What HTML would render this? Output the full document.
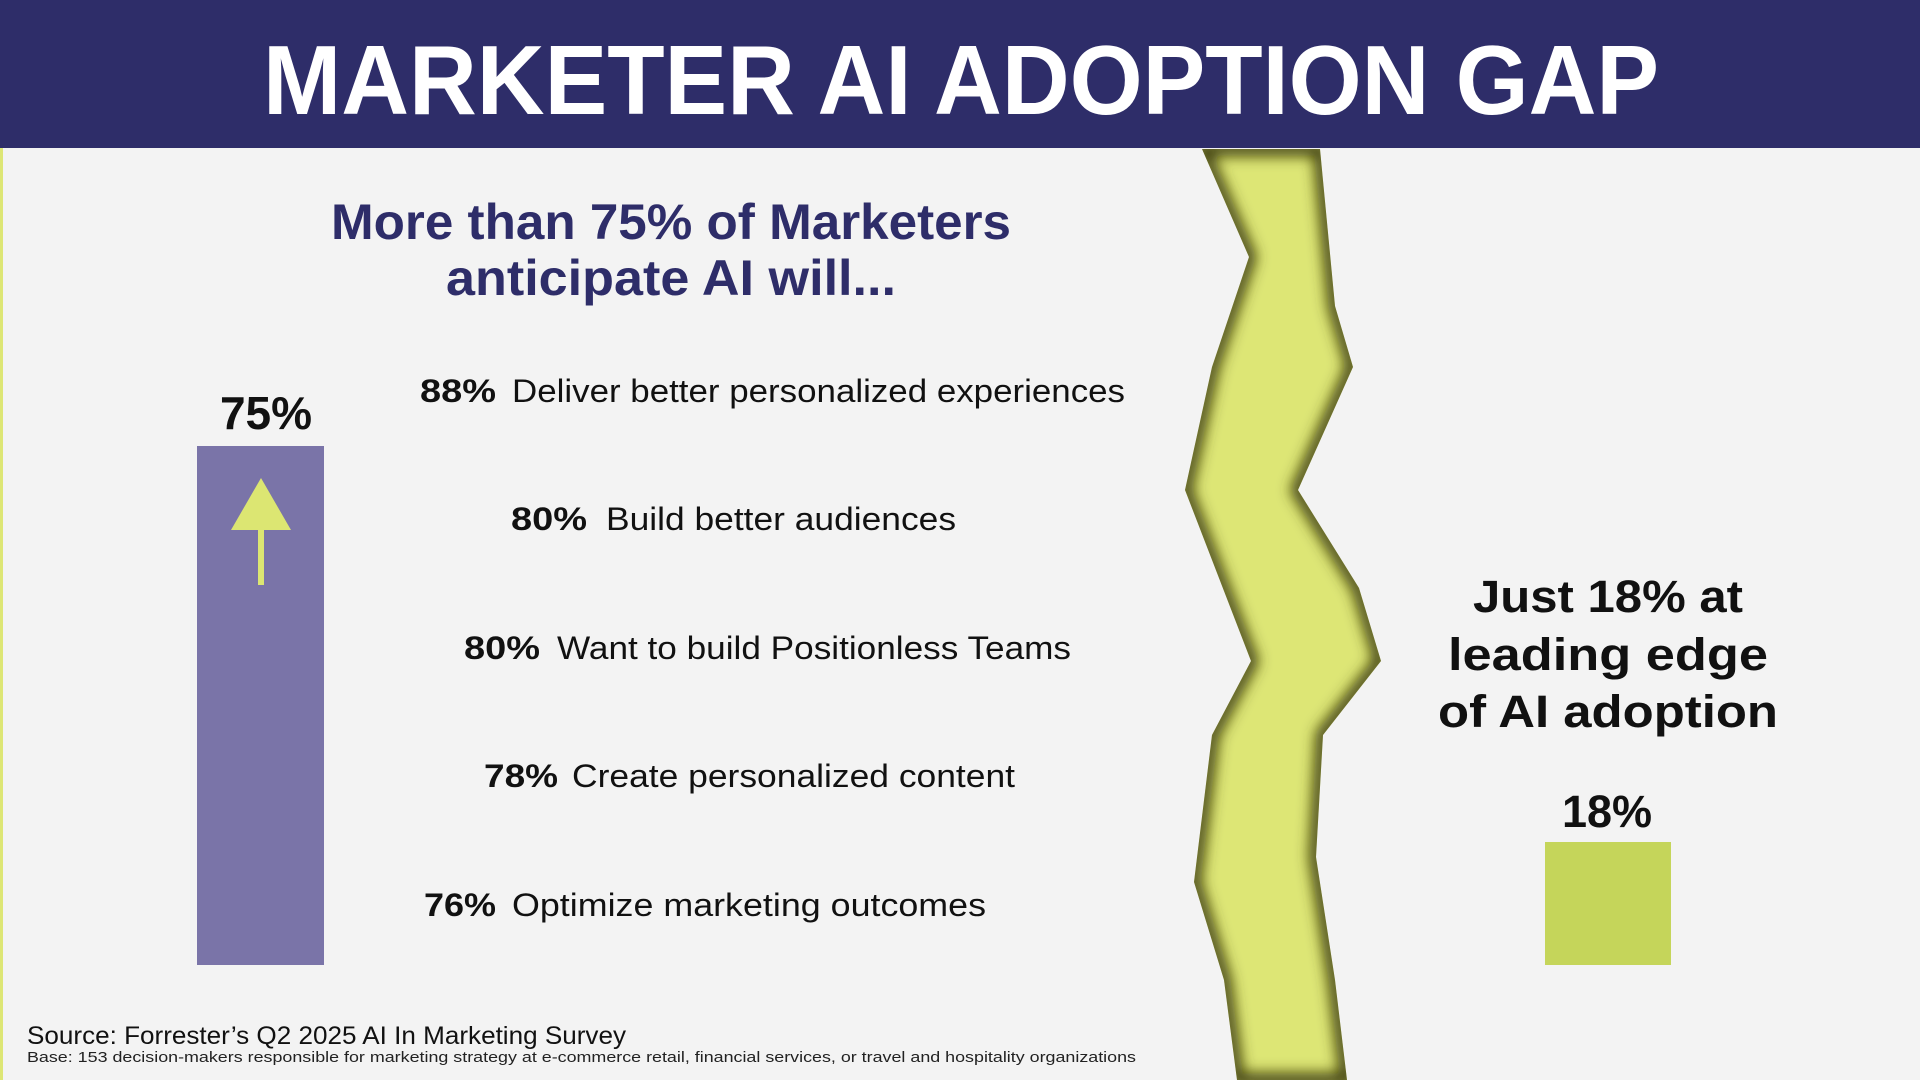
<!DOCTYPE html>
<html><head><meta charset="utf-8"><style>
html,body{margin:0;padding:0;width:1920px;height:1080px;overflow:hidden;background:#f3f3f3}
svg{display:block;font-family:"Liberation Sans",sans-serif}
</style></head><body>
<svg width="1920" height="1080" viewBox="0 0 1920 1080" xmlns="http://www.w3.org/2000/svg">
<defs>
<filter id="bl" x="-20%" y="-5%" width="140%" height="110%"><feGaussianBlur stdDeviation="7"/></filter>
<clipPath id="cc"><polygon id="crackp" points="1202,149 1249,257 1212,367 1185,490 1251,661 1212,735 1194,882 1224,980 1237,1080 1347,1080 1335,980 1316,857 1323,735 1381,661 1359,588 1298,490 1353,367 1335,306 1320,149"/></clipPath>
</defs>
<rect width="1920" height="1080" fill="#f3f3f3"/>
<rect x="0" y="147" width="3" height="933" fill="#dde675"/>
<rect width="1920" height="148" fill="#2e2d69"/>
<text x="961" y="114" text-anchor="middle" font-size="98" font-weight="bold" fill="#fff" textLength="1396" lengthAdjust="spacingAndGlyphs">MARKETER AI ADOPTION GAP</text>

<text x="671" y="239" text-anchor="middle" font-size="50" font-weight="bold" fill="#2e2d69" textLength="680" lengthAdjust="spacingAndGlyphs">More than 75% of Marketers</text>
<text x="671" y="295" text-anchor="middle" font-size="50" font-weight="bold" fill="#2e2d69" textLength="450" lengthAdjust="spacingAndGlyphs">anticipate AI will...</text>

<text x="266" y="429" text-anchor="middle" font-size="46" font-weight="bold" fill="#111">75%</text>
<rect x="197" y="446" width="127" height="519" fill="#7a74a8"/>
<polygon points="261,478 231,530 291,530" fill="#dce672"/>
<rect x="258" y="529" width="6" height="56" fill="#dce672"/>

<g font-size="32" fill="#111">
<text x="420" y="402" font-weight="bold" textLength="76" lengthAdjust="spacingAndGlyphs">88%</text>
<text x="512" y="402" textLength="613" lengthAdjust="spacingAndGlyphs">Deliver better personalized experiences</text>
<text x="511" y="530" font-weight="bold" textLength="76" lengthAdjust="spacingAndGlyphs">80%</text>
<text x="606" y="530" textLength="350" lengthAdjust="spacingAndGlyphs">Build better audiences</text>
<text x="464" y="659" font-weight="bold" textLength="76" lengthAdjust="spacingAndGlyphs">80%</text>
<text x="557" y="659" textLength="514" lengthAdjust="spacingAndGlyphs">Want to build Positionless Teams</text>
<text x="484" y="787" font-weight="bold" textLength="74" lengthAdjust="spacingAndGlyphs">78%</text>
<text x="572" y="787" textLength="443" lengthAdjust="spacingAndGlyphs">Create personalized content</text>
<text x="424" y="916" font-weight="bold" textLength="72" lengthAdjust="spacingAndGlyphs">76%</text>
<text x="512" y="916" textLength="474" lengthAdjust="spacingAndGlyphs">Optimize marketing outcomes</text>
</g>

<polygon points="1202,149 1249,257 1212,367 1185,490 1251,661 1212,735 1194,882 1224,980 1237,1080 1347,1080 1335,980 1316,857 1323,735 1381,661 1359,588 1298,490 1353,367 1335,306 1320,149" fill="#dde675"/>
<g clip-path="url(#cc)">
<polygon points="1202,149 1249,257 1212,367 1185,490 1251,661 1212,735 1194,882 1224,980 1237,1080 1347,1080 1335,980 1316,857 1323,735 1381,661 1359,588 1298,490 1353,367 1335,306 1320,149" fill="none" stroke="#3d3d0a" stroke-width="14" filter="url(#bl)"/>
</g>

<g font-size="45" font-weight="bold" fill="#111" text-anchor="middle">
<text x="1608" y="612" textLength="270" lengthAdjust="spacingAndGlyphs">Just 18% at</text>
<text x="1608" y="670" textLength="320" lengthAdjust="spacingAndGlyphs">leading edge</text>
<text x="1608" y="727" textLength="340" lengthAdjust="spacingAndGlyphs">of AI adoption</text>
<text x="1607" y="827">18%</text>
</g>
<rect x="1545" y="842" width="126" height="123" fill="#c5d55a"/>

<text x="27" y="1044" font-size="25" fill="#111" textLength="599" lengthAdjust="spacingAndGlyphs">Source: Forrester’s Q2 2025 AI In Marketing Survey</text>
<text x="27" y="1062" font-size="15" fill="#222" textLength="1109" lengthAdjust="spacingAndGlyphs">Base: 153 decision-makers responsible for marketing strategy at e-commerce retail, financial services, or travel and hospitality organizations</text>
</svg>
</body></html>
